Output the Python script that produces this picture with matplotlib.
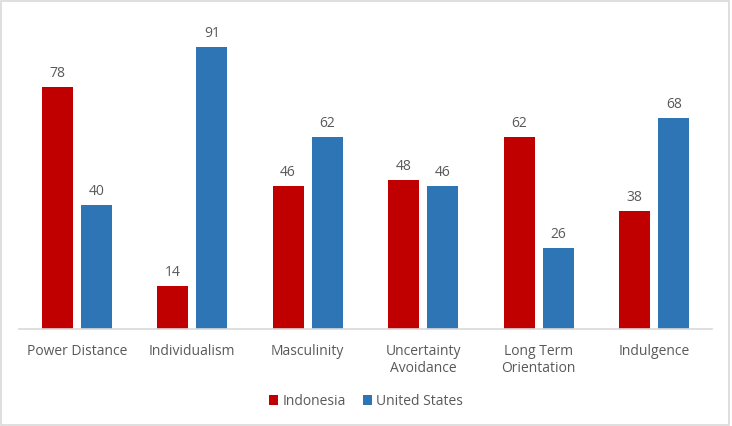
import matplotlib.pyplot as plt
from matplotlib.patches import Rectangle
import numpy as np

categories = ["Power Distance", "Individualism", "Masculinity",
              "Uncertainty\nAvoidance", "Long Term\nOrientation", "Indulgence"]
indonesia = [78, 14, 46, 48, 62, 38]
united_states = [40, 91, 62, 46, 26, 68]

red = '#C00000'
blue = '#2E75B6'
txt = '#595959'

plt.rcParams['font.family'] = ['Open Sans', 'DejaVu Sans']

fig = plt.figure(figsize=(7.32, 4.27), dpi=100)
ax = fig.add_axes([19/732, 97/427, 693/732, 310/427])

x = np.arange(len(categories))
w = 0.27
gap = 0.035
b1 = ax.bar(x - w/2 - gap, indonesia, w, color=red, label='Indonesia')
b2 = ax.bar(x + w/2 + gap, united_states, w, color=blue, label='United States')

for bars in (b1, b2):
    for r in bars:
        ax.annotate(f"{int(r.get_height())}", (r.get_x() + r.get_width()/2, r.get_height()),
                    xytext=(0, 5), textcoords='offset points', ha='center', va='bottom',
                    fontsize=10, color=txt)

ax.set_xlim(-0.5, len(categories) - 0.5)
ax.set_ylim(0, 100)
ax.set_yticks([])
ax.set_xticks(x)
ax.set_xticklabels(categories, fontsize=10, color=txt, linespacing=1.2)
ax.tick_params(axis='x', length=0, pad=10)
for s in ['top', 'right', 'left']:
    ax.spines[s].set_visible(False)
ax.spines['bottom'].set_color('#D9D9D9')
ax.spines['bottom'].set_linewidth(1.2)

fig.legend(loc='center', bbox_to_anchor=(0.5, 1 - 402/427), ncol=2, frameon=False,
           fontsize=10, labelcolor=txt, handlelength=0.7, handleheight=0.7,
           handletextpad=0.3, columnspacing=1.2)

fig.patches.append(Rectangle((0.002, 0.003), 0.994, 0.993, transform=fig.transFigure,
                             fill=False, edgecolor='#D9D9D9', linewidth=1.2))

fig.savefig('out.png', dpi=100)
